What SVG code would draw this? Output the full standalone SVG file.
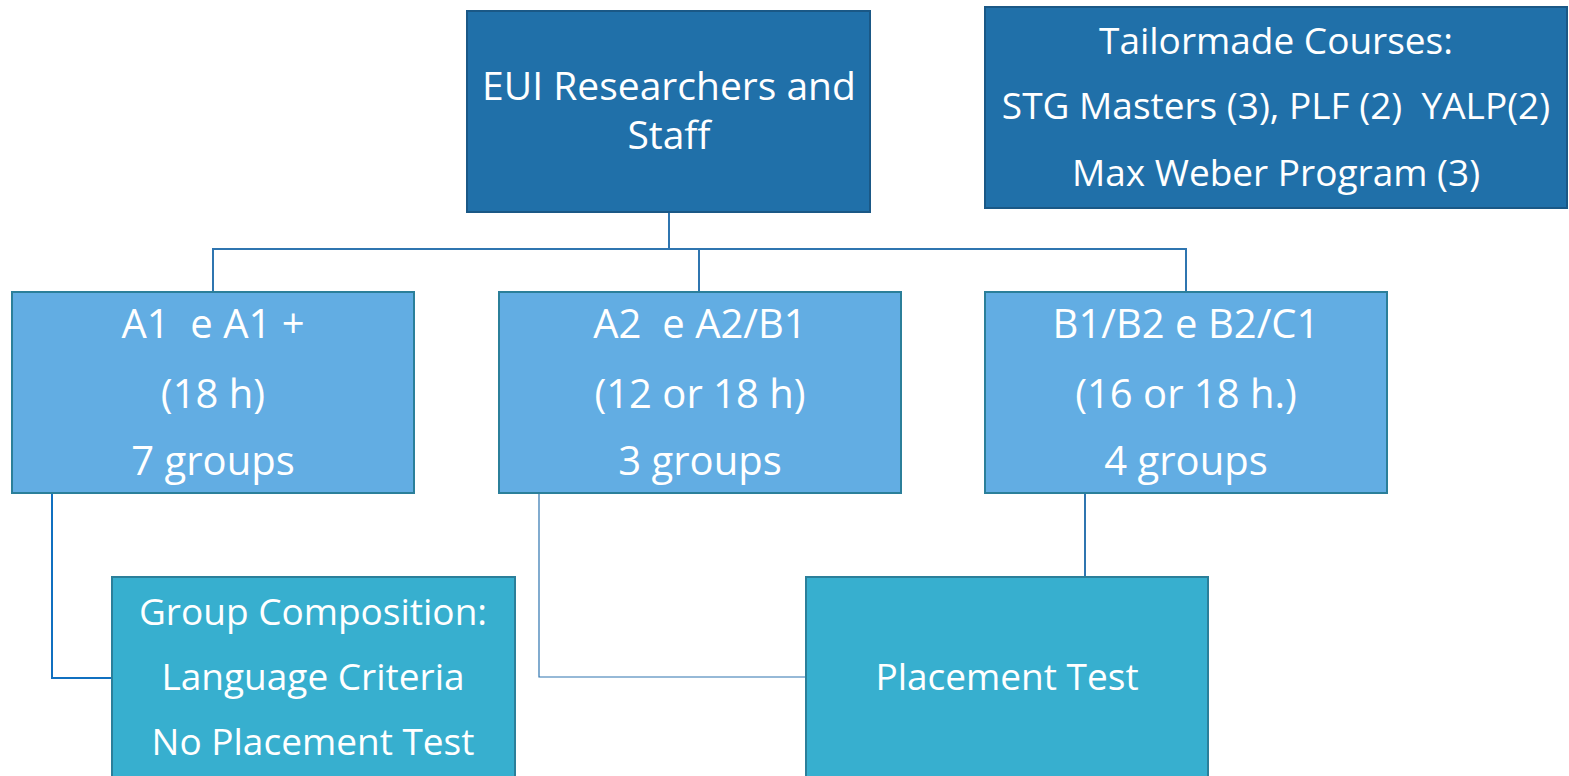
<svg xmlns="http://www.w3.org/2000/svg" width="1569" height="776" viewBox="0 0 1569 776">
<style>
.dark{fill:#2070A9;stroke:#1A5886;stroke-width:2}
.mid{fill:#62ADE3;stroke:#2B7F9A;stroke-width:2}
.low{fill:#37AFCF;stroke:#2B7F9A;stroke-width:2}
text{font-family:"Open Sans","Liberation Sans",sans-serif;fill:#FFFFFF;text-anchor:middle}
.t0{font-size:39px}
.t1{font-size:40px}
.t2{font-size:37px}
.t3{font-size:37px}
.c{fill:none;stroke:#2F75B0;stroke-width:2}
</style>
<rect width="1569" height="776" fill="#FFFFFF"/>
<g id="connectors">
<path class="c" d="M669,213 V249 M213,292 V249 H1186 V292 M699,249 V292"/>
<path class="c" d="M52,493 V678 H112" style="stroke:#1070C0"/>
<path class="c" d="M539,493 V677 H806" style="stroke-width:1.2"/>
<path class="c" d="M1085,493 V580"/>
</g>
<g id="eui">
<rect class="dark" x="467" y="11" width="403" height="201"/>
<text class="t0" x="669" y="100">EUI Researchers and</text>
<text class="t0" x="669" y="149">Staff</text>
</g>
<g id="tailormade">
<rect class="dark" x="985" y="7" width="582" height="201"/>
<text class="t2" x="1276" y="54">Tailormade Courses:</text>
<text class="t2" x="1276" y="119" xml:space="preserve">STG Masters (3), PLF (2)  YALP(2)</text>
<text class="t2" x="1276" y="186">Max Weber Program (3)</text>
</g>
<g id="a1">
<rect class="mid" x="12" y="292" width="402" height="201"/>
<text class="t1" x="213" y="338" xml:space="preserve">A1  e A1 +</text>
<text class="t1" x="213" y="408">(18 h)</text>
<text class="t1" x="213" y="475">7 groups</text>
</g>
<g id="a2">
<rect class="mid" x="499" y="292" width="402" height="201"/>
<text class="t1" x="700" y="338" xml:space="preserve">A2  e A2/B1</text>
<text class="t1" x="700" y="408">(12 or 18 h)</text>
<text class="t1" x="700" y="475">3 groups</text>
</g>
<g id="b1">
<rect class="mid" x="985" y="292" width="402" height="201"/>
<text class="t1" x="1186" y="338">B1/B2 e B2/C1</text>
<text class="t1" x="1186" y="408">(16 or 18 h.)</text>
<text class="t1" x="1186" y="475">4 groups</text>
</g>
<g id="groupcomp">
<rect class="low" x="112" y="577" width="403" height="210"/>
<text class="t3" x="313" y="625">Group Composition:</text>
<text class="t3" x="313" y="690">Language Criteria</text>
<text class="t3" x="313" y="755">No Placement Test</text>
</g>
<g id="placement">
<rect class="low" x="806" y="577" width="402" height="210"/>
<text class="t3" x="1007" y="690">Placement Test</text>
</g>
</svg>
